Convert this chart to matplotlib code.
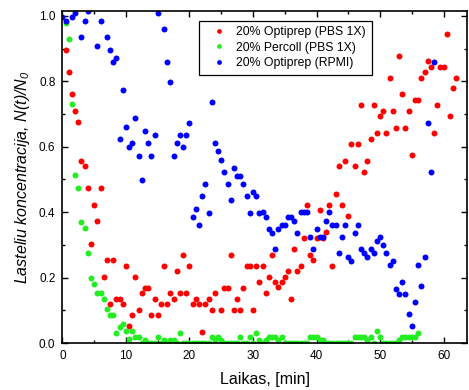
import matplotlib
matplotlib.use('Agg')
import matplotlib.pyplot as plt
from matplotlib.ticker import MultipleLocator

plt.rcParams['font.family'] = ['Liberation Sans', 'DejaVu Sans']
plt.rcParams['mathtext.fontset'] = 'custom'
plt.rcParams['mathtext.it'] = 'Liberation Sans:italic'
plt.rcParams['mathtext.rm'] = 'Liberation Sans:italic'

# 20% Optiprep (PBS 1X)
red_t = [0.5, 1.0, 1.5, 2.0, 2.5, 3.0, 3.5, 4.0, 4.5, 5.0, 5.5, 6.0, 6.5, 7.0, 7.5, 8.0,
         8.5, 9.0, 9.5, 10.0, 10.5, 11.0, 11.5, 12.0, 12.5, 13.0, 13.5, 14.0, 14.5, 15.0,
         15.5, 16.0, 16.5, 17.0, 17.5, 18.0, 18.5, 19.0, 19.5, 20.0, 20.5, 21.0, 21.5,
         22.0, 22.5, 23.0, 23.5, 24.0, 25.0, 25.5, 26.0, 26.5, 27.0, 27.5, 28.0, 28.5,
         29.0, 29.5, 30.0, 30.5, 31.0, 31.5, 32.0, 32.5, 33.0, 33.5, 34.0, 34.5, 35.0,
         35.5, 36.0, 36.5, 37.0, 37.5, 38.0, 38.5, 39.0, 39.5, 40.0, 40.5, 41.0, 41.5,
         42.0, 42.5, 43.0, 43.5, 44.0, 44.5, 45.0, 45.5, 46.0, 46.5, 47.0, 47.5, 48.0,
         48.5, 49.0, 49.5, 50.0, 50.5, 51.0, 51.5, 52.0, 52.5, 53.0, 53.5, 54.0, 54.5,
         55.0, 55.5, 56.0, 56.5, 57.0, 57.5, 58.0, 58.5, 59.0, 59.5, 60.0, 60.5, 61.0,
         61.5, 62.0]
red_n = [0.896, 0.828, 0.76, 0.71, 0.676, 0.557, 0.541, 0.474, 0.304, 0.423, 0.372, 0.474,
         0.203, 0.254, 0.118, 0.254, 0.136, 0.136, 0.118, 0.236, 0.051, 0.085, 0.203, 0.1,
         0.152, 0.169, 0.169, 0.085, 0.136, 0.085, 0.118, 0.236, 0.118, 0.152, 0.136, 0.22,
         0.152, 0.27, 0.152, 0.236, 0.118, 0.136, 0.118, 0.034, 0.118, 0.136, 0.1, 0.152,
         0.1, 0.169, 0.169, 0.27, 0.1, 0.136, 0.1, 0.169, 0.236, 0.236, 0.1, 0.236, 0.187,
         0.236, 0.152, 0.203, 0.27, 0.187, 0.17, 0.187, 0.203, 0.22, 0.136, 0.287, 0.22,
         0.236, 0.321, 0.423, 0.27, 0.254, 0.321, 0.406, 0.321, 0.339, 0.423, 0.236, 0.456,
         0.54, 0.423, 0.557, 0.389, 0.607, 0.54, 0.607, 0.727, 0.523, 0.557, 0.624, 0.727,
         0.642, 0.693, 0.71, 0.642, 0.811, 0.71, 0.658, 0.879, 0.76, 0.658, 0.71, 0.574,
         0.744, 0.744, 0.811, 0.828, 0.861, 0.845, 0.642, 0.727, 0.845, 0.845, 0.946, 0.693,
         0.78, 0.811]

# 20% Percoll (PBS 1X)
green_t = [0.5, 1.0, 1.5, 2.0, 2.5, 3.0, 3.5, 4.0, 4.5, 5.0, 5.5, 6.0, 6.5, 7.0, 7.5, 8.0,
           8.5, 9.0, 9.5, 10.0, 10.5, 11.0, 11.5, 12.0, 12.5, 13.0, 13.5, 14.0, 14.5, 15.0,
           15.5, 16.0, 16.5, 17.0, 17.5, 18.0, 18.5, 19.0, 19.5, 20.0, 20.5, 21.0, 21.5,
           22.0, 22.5, 23.0, 23.5, 24.0, 24.5, 25.0, 25.5, 26.0, 26.5, 27.0, 27.5, 28.0,
           28.5, 29.0, 29.5, 30.0, 30.5, 31.0, 31.5, 32.0, 32.5, 33.0, 33.5, 34.0, 34.5,
           35.0, 35.5, 36.0, 36.5, 37.0, 37.5, 38.0, 38.5, 39.0, 39.5, 40.0, 40.5, 41.0,
           41.5, 42.0, 42.5, 43.0, 43.5, 44.0, 44.5, 45.0, 45.5, 46.0, 46.5, 47.0, 47.5,
           48.0, 48.5, 49.0, 49.5, 50.0, 50.5, 51.0, 51.5, 52.0, 52.5, 53.0, 53.5, 54.0,
           54.5, 55.0, 55.5, 56.0]
green_n = [0.978, 0.93, 0.731, 0.513, 0.475, 0.371, 0.351, 0.275, 0.2, 0.18, 0.153, 0.153,
           0.134, 0.105, 0.086, 0.086, 0.03, 0.049, 0.057, 0.038, 0.011, 0.038, 0.019, 0.019,
           0.0, 0.009, 0.0, 0.0, 0.0, 0.019, 0.0, 0.009, 0.0, 0.009, 0.009, 0.0, 0.03, 0.0,
           0.0, 0.0, 0.0, 0.0, 0.0, 0.0, 0.0, 0.0, 0.019, 0.009, 0.019, 0.009, 0.0, 0.0, 0.0,
           0.0, 0.0, 0.019, 0.0, 0.0, 0.019, 0.0, 0.03, 0.009, 0.0, 0.009, 0.019, 0.019,
           0.019, 0.009, 0.019, 0.0, 0.0, 0.0, 0.0, 0.0, 0.0, 0.0, 0.0, 0.019, 0.019, 0.019,
           0.009, 0.009, 0.0, 0.0, 0.0, 0.0, 0.0, 0.0, 0.0, 0.0, 0.0, 0.019, 0.019, 0.019,
           0.019, 0.009, 0.019, 0.0, 0.037, 0.019, 0.0, 0.0, 0.0, 0.0, 0.0, 0.009, 0.019,
           0.019, 0.019, 0.019, 0.019, 0.03]

# 20% Optiprep (RPMI)
blue_t = [0.0, 0.5, 1.5, 2.0, 3.0, 3.5, 4.0, 5.5, 6.0, 7.0, 7.5, 8.0, 8.5, 9.0, 9.5, 10.0,
          10.5, 11.0, 11.5, 12.0, 12.5, 13.0, 13.5, 14.0, 14.5, 15.0, 16.0, 16.5, 17.0,
          17.5, 18.0, 18.5, 19.0, 19.5, 20.0, 20.5, 21.0, 21.5, 22.0, 22.5, 23.0, 23.5,
          24.0, 24.5, 25.0, 25.5, 26.0, 26.5, 27.0, 27.5, 28.0, 28.5, 29.0, 29.5, 30.0,
          30.5, 31.0, 31.5, 32.0, 32.5, 33.0, 33.5, 34.0, 34.5, 35.0, 35.5, 36.0, 36.5,
          37.0, 37.5, 38.0, 38.5, 39.0, 39.5, 40.0, 40.5, 41.0, 41.5, 42.0, 42.5, 43.0,
          43.5, 44.0, 44.5, 45.0, 45.5, 46.0, 46.5, 47.0, 47.5, 48.0, 48.5, 49.0, 49.5,
          50.0, 50.5, 51.0, 51.5, 52.0, 52.5, 53.0, 53.5, 54.0, 54.5, 55.0, 55.5, 56.0,
          56.5, 57.0, 57.5, 58.0, 58.5]
blue_n = [0.996, 0.986, 0.996, 1.01, 0.935, 0.984, 1.016, 0.909, 0.984, 0.935, 0.897, 0.859,
          0.872, 0.624, 0.773, 0.66, 0.598, 0.611, 0.687, 0.573, 0.498, 0.648, 0.611, 0.573,
          0.636, 1.01, 0.959, 0.859, 0.797, 0.573, 0.611, 0.636, 0.598, 0.636, 0.673, 0.386,
          0.411, 0.361, 0.449, 0.485, 0.399, 0.736, 0.611, 0.586, 0.561, 0.523, 0.485, 0.436,
          0.536, 0.511, 0.511, 0.485, 0.449, 0.399, 0.461, 0.449, 0.399, 0.4, 0.386, 0.35,
          0.336, 0.287, 0.35, 0.362, 0.362, 0.386, 0.386, 0.374, 0.336, 0.4, 0.4, 0.4, 0.325,
          0.287, 0.35, 0.325, 0.325, 0.374, 0.4, 0.362, 0.362, 0.275, 0.325, 0.362, 0.262,
          0.25, 0.336, 0.362, 0.287, 0.275, 0.262, 0.287, 0.275, 0.312, 0.325, 0.3, 0.275,
          0.238, 0.25, 0.164, 0.15, 0.188, 0.15, 0.088, 0.051, 0.125, 0.238, 0.175, 0.262,
          0.673, 0.523, 0.859]

series = [
    (red_t, red_n, '#ff0000', '20% Optiprep (PBS 1X)'),
    (green_t, green_n, '#22ee22', '20% Percoll (PBS 1X)'),
    (blue_t, blue_n, '#0000ff', '20% Optiprep (RPMI)'),
]

fig = plt.figure(figsize=(4.69, 3.90), dpi=100)
ax = fig.add_axes([0.133, 0.1205, 0.863, 0.852])

for t, n, color, label in series:
    ax.plot(t, n, 'o', color=color, markersize=4.3, markeredgewidth=0, label=label)

ax.set_xlim(0, 63.7)
ax.set_ylim(0, 1.016)
ax.xaxis.set_major_locator(MultipleLocator(10))
ax.xaxis.set_minor_locator(MultipleLocator(5))
ax.yaxis.set_major_locator(MultipleLocator(0.2))
ax.yaxis.set_minor_locator(MultipleLocator(0.1))
ax.yaxis.set_major_formatter(plt.FormatStrFormatter('%.1f'))
ax.tick_params(which='both', direction='in', top=True, right=True, labelsize=8.5, width=1)
ax.tick_params(which='major', length=4.5, pad=5)
ax.tick_params(which='minor', length=2.5)
for sp in ax.spines.values():
    sp.set_linewidth(1.2)

ax.set_xlabel('Laikas, [min]', fontsize=11.5, labelpad=7)
ax.set_ylabel(r'Lasteliu koncentracija, $N(t)/N_0$', fontsize=11.5, style='italic', labelpad=5)

leg = ax.legend(loc='upper left', bbox_to_anchor=(0.338, 0.970), borderaxespad=0,
                fontsize=8.8, fancybox=False, edgecolor='black', framealpha=1,
                handlelength=2.4, handletextpad=0.2, borderpad=0.45, labelspacing=0.28,
                markerscale=0.8)
leg.get_frame().set_linewidth(0.9)

fig.savefig('out.png', dpi=100)
